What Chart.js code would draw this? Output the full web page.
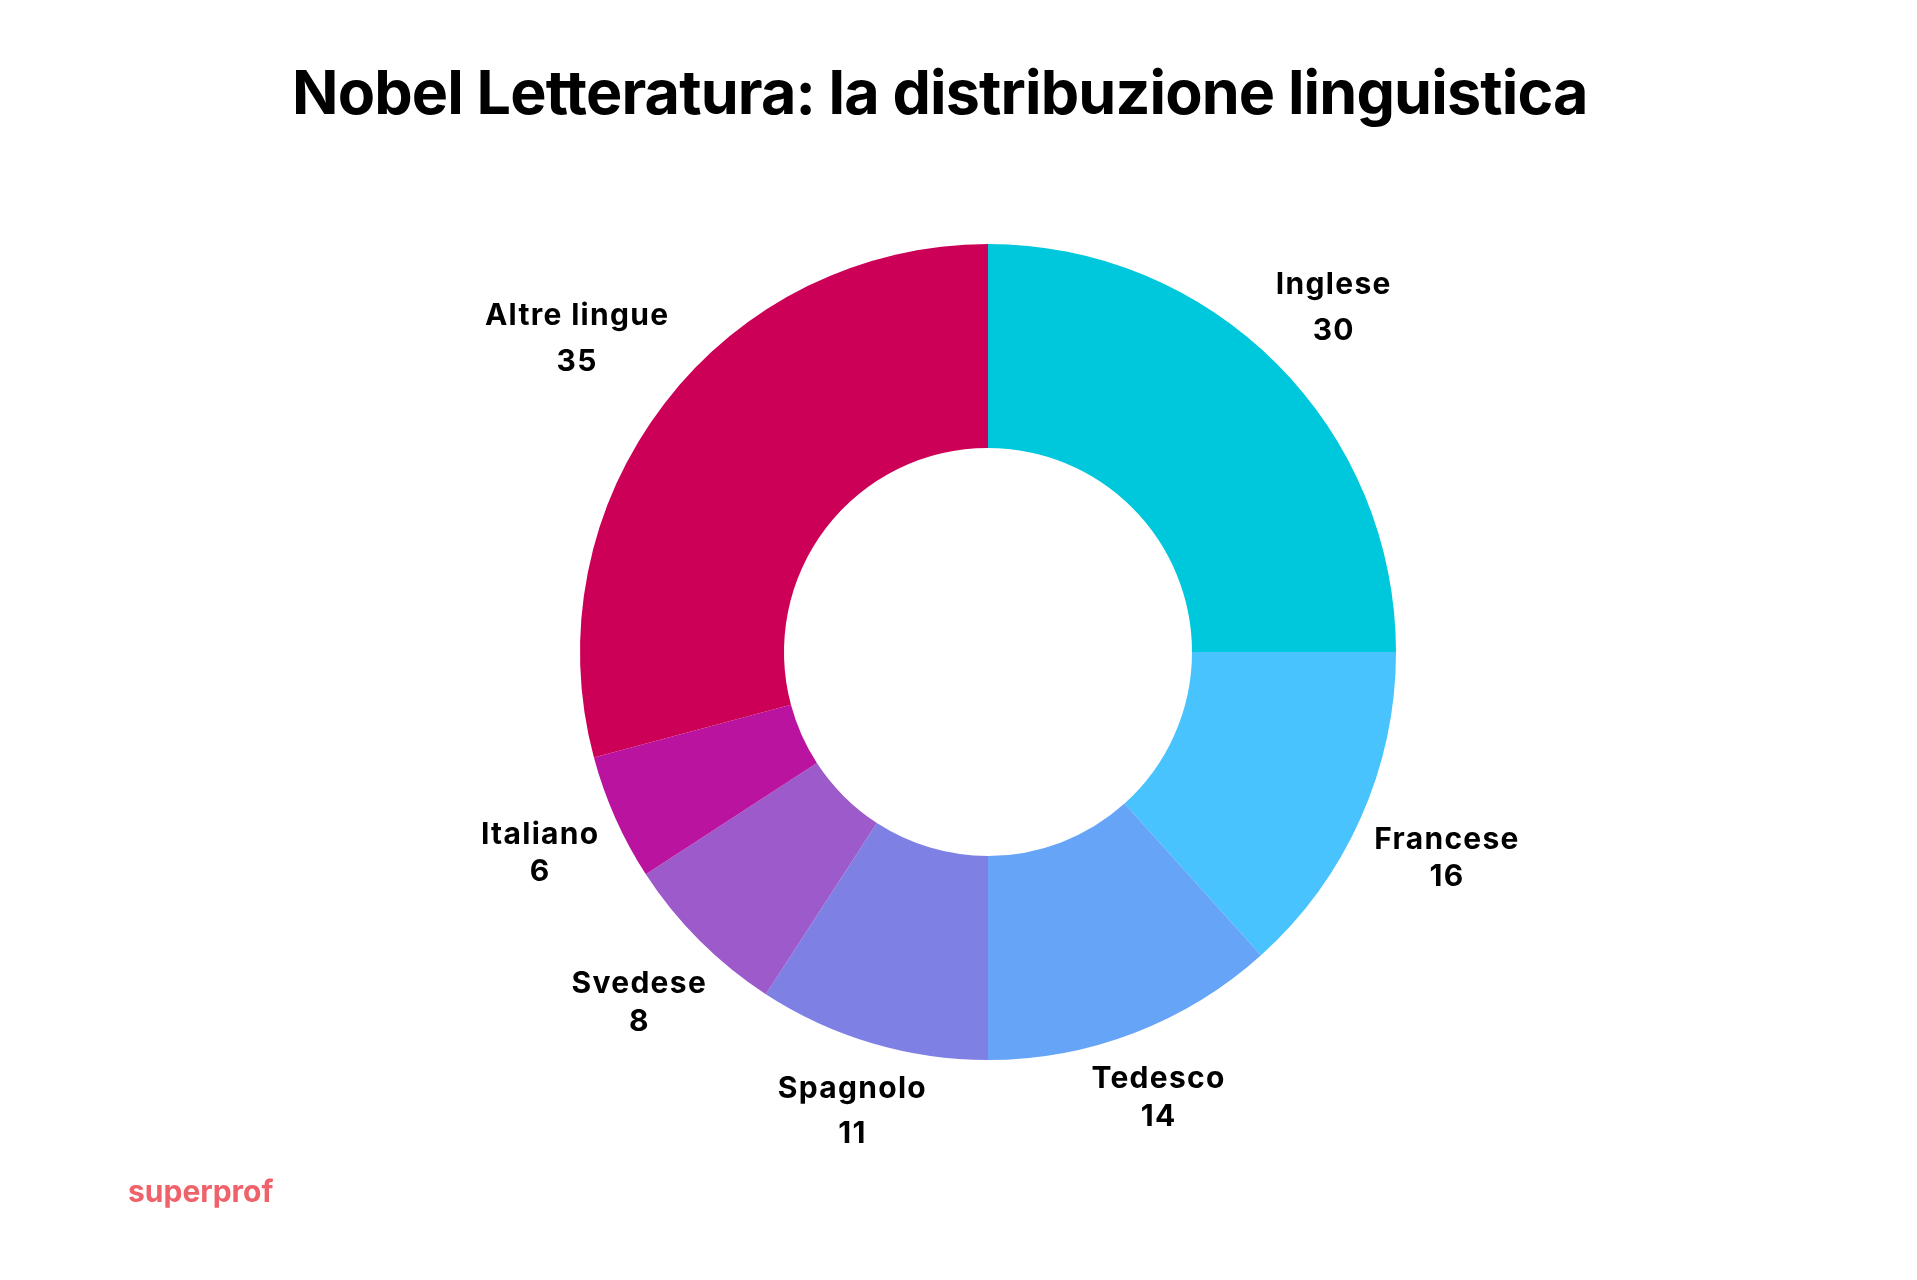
<!DOCTYPE html>
<html lang="it">
<head>
  <meta charset="UTF-8" />
  <title>Nobel Letteratura: la distribuzione linguistica</title>
  <script src="https://cdn.jsdelivr.net/npm/chart.js"></script>
  <style>
    html, body {
      margin: 0;
      padding: 0;
      background: #ffffff;
      overflow: hidden;
    }

    #page {
      position: relative;
      width: 1917px;
      height: 1280px;
    }

    #title {
      position: absolute;
      left: 292px;
      top: 62px;
      margin: 0;
      font-family: "Inter", sans-serif;
      font-weight: 700;
      font-size: 61px;
      line-height: 61px;
      letter-spacing: -0.85px;
      color: #000;
      white-space: nowrap;
    }

    #logo {
      position: absolute;
      left: 128px;
      top: 1176px;
      font-family: "Inter", sans-serif;
      font-weight: 700;
      font-size: 30px;
      line-height: 30px;
      color: #f0626a;
    }

    #chart-box {
      position: absolute;
      left: 0;
      top: 0;
      width: 1917px;
      height: 1280px;
    }
  </style>
</head>
<body>
  <div id="page">
    <div id="chart-box"><canvas id="langChart"></canvas></div>
    <h1 id="title">Nobel Letteratura: la distribuzione linguistica</h1>
    <div id="logo">superprof</div>
  </div>

  <script>
    const categories = ['Inglese', 'Francese', 'Tedesco', 'Spagnolo', 'Svedese', 'Italiano', 'Altre lingue'];
    const laureates = [30, 16, 14, 11, 8, 6, 35];
    const sliceColors = ['#00c8dc', '#48c3fd', '#66a4f8', '#7f80e4', '#9c5acb', '#b9139f', '#cd0058'];
    // vertical distance between name and number for each label
    const labelGaps = [46, 37, 38, 45, 38, 37, 46];

    // two-line labels outside each slice, pushed out so the box clears the ring
    const sliceLabels = {
      id: 'sliceLabels',
      afterDatasetsDraw(chart, args, opts) {
        const ctx = chart.ctx;
        const meta = chart.getDatasetMeta(0);
        const values = chart.data.datasets[0].data;
        ctx.save();
        ctx.font = opts.font;
        ctx.letterSpacing = opts.letterSpacing;
        ctx.fillStyle = opts.color;
        ctx.textAlign = 'center';
        ctx.textBaseline = 'alphabetic';
        meta.data.forEach((arc, i) => {
          const p = arc.getProps(['x', 'y', 'startAngle', 'endAngle', 'outerRadius'], true);
          const mid = (p.startAngle + p.endAngle) / 2;
          const dx = Math.cos(mid);
          const dy = Math.sin(mid);
          const name = chart.data.labels[i];
          const val = String(values[i]);
          const w = Math.max(ctx.measureText(name).width, ctx.measureText(val).width);
          const gap = opts.gaps[i];
          const h = gap + opts.capHeight;
          const r = p.outerRadius + opts.offset + Math.abs(dx) * w / 2 + Math.abs(dy) * h / 2;
          const cx = p.x + dx * r;
          const cy = p.y + dy * r;
          ctx.fillText(name, cx, cy - gap / 2 + opts.capHeight / 2);
          ctx.fillText(val, cx, cy + gap / 2 + opts.capHeight / 2);
        });
        ctx.restore();
      }
    };

    const ctx = document.getElementById('langChart').getContext('2d');
    new Chart(ctx, {
      type: 'doughnut',
      data: {
        labels: categories,
        datasets: [{
          data: laureates,
          backgroundColor: sliceColors,
          borderWidth: 0
        }]
      },
      options: {
        responsive: true,
        maintainAspectRatio: false,
        animation: false,
        cutout: '50%',
        layout: {
          padding: { top: 244, bottom: 220, left: 580, right: 521 }
        },
        plugins: {
          legend: { display: false },
          tooltip: { enabled: false },
          sliceLabels: {
            font: '700 30px Inter, sans-serif',
            letterSpacing: '1.3px',
            color: '#000000',
            capHeight: 22,
            offset: 16,
            gaps: labelGaps
          }
        }
      },
      plugins: [sliceLabels]
    });
  </script>
</body>
</html>
